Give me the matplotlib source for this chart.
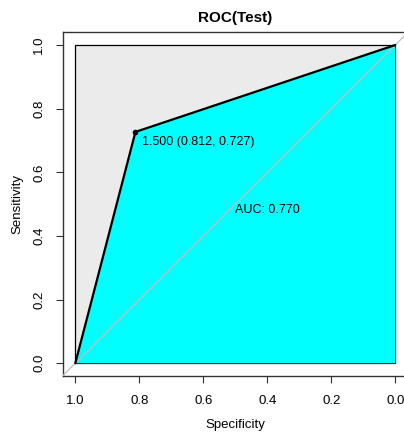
import matplotlib
matplotlib.use("Agg")
import matplotlib.pyplot as plt
from matplotlib.patches import Rectangle, Polygon

plt.rcParams['font.family'] = ['Liberation Sans', 'DejaVu Sans']

specificity = [1.0, 0.812, 0.0]
sensitivity = [0.0, 0.727, 1.0]
threshold_label = "1.500 (0.812, 0.727)"
auc_label = "AUC: 0.770"
ticks = [1.0, 0.8, 0.6, 0.4, 0.2, 0.0]
tick_labels = ["1.0", "0.8", "0.6", "0.4", "0.2", "0.0"]

W, H = 404, 433
fig = plt.figure(figsize=(W / 100, H / 100), dpi=100)
x0, x1 = 62.5, 408.0
y0, y1 = 32.3, 376.0
ax = fig.add_axes([x0 / W, 1 - y1 / H, (x1 - x0) / W, (y1 - y0) / H])
ax.set_xlim(1.04, -0.04)
ax.set_ylim(-0.04, 1.04)

# grey max polygon with border
ax.add_patch(Rectangle((0, 0), 1, 1, facecolor="#EBEBEB", edgecolor="black", lw=0.9, zorder=1))
# AUC polygon
poly_pts = list(zip(specificity, sensitivity)) + [(0.0, 0.0)]
ax.add_patch(Polygon(poly_pts, closed=True, facecolor="#00FFFF", edgecolor="none", zorder=2))
# diagonal
ax.axline((1, 0), (0, 1), color="#BEBEBE", lw=0.9, zorder=3)
# ROC line
ax.plot(specificity, sensitivity, color="black", lw=1.6, zorder=4, solid_capstyle="round")
# threshold point
ax.plot([specificity[1]], [sensitivity[1]], "o", color="black", ms=3, zorder=5)
ax.annotate(threshold_label, (specificity[1], sensitivity[1]), xytext=(5, -3),
            textcoords="offset points", ha="left", va="top", fontsize=9, zorder=6)
ax.text(0.5, 0.5, auc_label, ha="left", va="top", fontsize=9, zorder=6)

ax.set_xticks(ticks)
ax.set_xticklabels(tick_labels)
ax.set_yticks(ticks)
ax.set_yticklabels(tick_labels, rotation=90, va="center")
ax.tick_params(direction="out", length=5, width=0.8, labelsize=9.5, colors="#333333")
ax.tick_params(axis="x", pad=9)
ax.tick_params(axis="y", pad=7.5)
ax.tick_params(labelcolor="black")
for s in ax.spines.values():
    s.set_linewidth(1.0)
    s.set_color("#333333")

ax.set_xlabel("Specificity", fontsize=9.5, labelpad=8)
ax.set_ylabel("Sensitivity", fontsize=9.5, labelpad=7)
fig.text(235 / W, 1 - 18 / H, "ROC(Test)", ha="center", va="center", fontsize=11, fontweight="bold")

fig.savefig("out.png", dpi=100)
